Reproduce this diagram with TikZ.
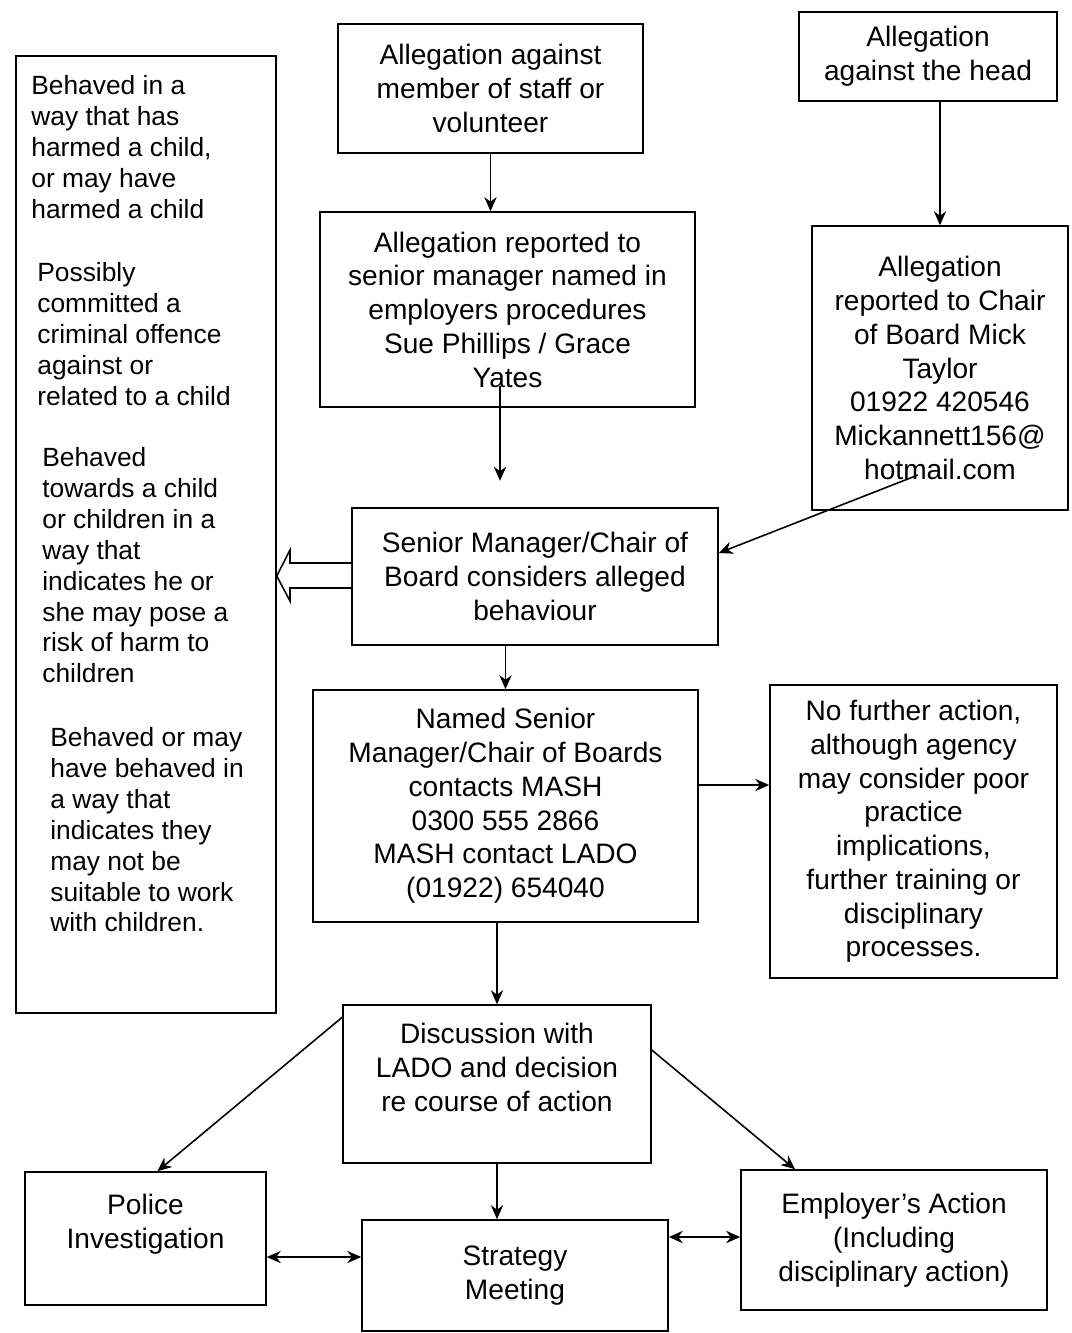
\documentclass[tikz,border=0pt]{standalone}
\usepackage{fontspec}
\setmainfont{Liberation Sans}
\usetikzlibrary{positioning,arrows.meta}
\tikzstyle{box} = [rectangle, draw=black, line width=0.9pt, text centered, align=center, inner sep=0pt, font=\fontsize{16}{19.2}\selectfont]
\tikzstyle{para} = [anchor=north west, align=left, inner sep=0pt, font=\fontsize{15}{17.6}\selectfont]
\tikzstyle{arrow} = [line width=0.9pt,->,>={Stealth[length=8pt,width=7pt]}]
\tikzstyle{dblarrow} = [line width=0.9pt,<->,>={Stealth[length=8pt,width=7pt]}]
\tikzstyle{hollowarrow} = [line width=0.9pt, draw=black, fill=white]

\begin{document}
\begin{tikzpicture}[x=0.02cm, y=-0.02cm]
	\useasboundingbox (0,0) rectangle (1072,1333);

	\node (staff) [box, minimum width=6.1cm, minimum height=2.58cm] at (490.5,88.5) {Allegation against\\member of staff or\\volunteer};
	\node (head) [box, minimum width=5.16cm, minimum height=1.78cm] at (928,56.5) {Allegation\\against the head};
	\node (leftbox) [box, minimum width=5.2cm, minimum height=19.14cm] at (146,534.5) {};
	\node (reported) [box, minimum width=7.5cm, minimum height=3.9cm] at (507.5,309.5) {Allegation reported to\\senior manager named in\\employers procedures\\Sue Phillips / Grace\\Yates};
	\node (chair) [box, minimum width=5.12cm, minimum height=5.68cm] at (940,368) {Allegation\\reported to Chair\\of Board Mick\\Taylor\\01922 420546\\Mickannett156@\\hotmail.com};
	\node (considers) [box, minimum width=7.32cm, minimum height=2.74cm] at (535,576.5) {Senior Manager/Chair of\\Board considers alleged\\behaviour};
	\node (contacts) [box, minimum width=7.7cm, minimum height=4.64cm] at (505.5,806) {Named Senior\\Manager/Chair of Boards\\contacts MASH\\0300 555 2866\\MASH contact LADO\\(01922) 654040};
	\node (nfa) [box, minimum width=5.74cm, minimum height=5.86cm] at (913.5,831.5) {No further action,\\although agency\\may consider poor\\practice\\implications,\\further training or\\disciplinary\\processes.};
	\node (discussion) [box, minimum width=6.16cm, minimum height=3.16cm] at (497,1084) {Discussion with\\LADO and decision\\re course of action\\\mbox{}};
	\node (police) [box, minimum width=4.82cm, minimum height=2.66cm] at (145.5,1238.5) {Police\\Investigation\\\mbox{}};
	\node (strategy) [box, minimum width=6.12cm, minimum height=2.22cm] at (515,1275.5) {Strategy\\Meeting};
	\node (employer) [box, minimum width=6.12cm, minimum height=2.8cm] at (894,1240) {Employer's Action\\(Including\\disciplinary action)};

	% the four kinds of behaviour
	\node (harmed) [para] at (31,75) {Behaved in a\\way that has\\harmed a child,\\or may have\\harmed a child};
	\node (offence) [para] at (37,262) {Possibly\\committed a\\criminal offence\\against or\\related to a child};
	\node (risk) [para] at (42,447) {Behaved\\towards a child\\or children in a\\way that\\indicates he or\\she may pose a\\risk of harm to\\children};
	\node (suitable) [para] at (50,727) {Behaved or may\\have behaved in\\a way that\\indicates they\\may not be\\suitable to work\\with children.};

	\draw [hollowarrow] (considers.west |- 0,563) -- (290,563) -- (290,550) -- (leftbox.east |- 0,576) -- (290,601) -- (290,588) -- (considers.west |- 0,588);

	\draw [arrow] (staff.south) -- (staff.south |- reported.north);
	\draw [arrow] (head.south -| chair.north) -- (chair.north);
	\draw [arrow] ([xshift=-0.15cm,yshift=0.44cm]reported.south) -- ++(0,95);
	\coordinate (chairtail) at (918,475);
	\draw [arrow] (chairtail) -- ([yshift=0.47cm]considers.east);
	\draw [arrow] (considers.south -| contacts.north) -- (contacts.north);
	\draw [arrow] ([yshift=0.42cm]contacts.east) -- ([yshift=0.42cm]contacts.east -| nfa.west);
	\draw [arrow] (contacts.south -| discussion.north) -- (discussion.north);
	\draw [arrow] ([yshift=-0.26cm]discussion.north west) -- ([xshift=0.24cm]police.north);
	\draw [arrow] ([yshift=0.68cm]discussion.east) -- ([xshift=-1.98cm]employer.north);
	\draw [arrow] (discussion.south) -- (discussion.south |- strategy.north);
	\draw [dblarrow] ([yshift=-0.37cm]police.east) -- ([yshift=-0.37cm]police.east -| strategy.west);
	\draw [dblarrow] ([yshift=0.77cm]strategy.east) -- ([yshift=0.77cm]strategy.east -| employer.west);

\end{tikzpicture}
\end{document}
